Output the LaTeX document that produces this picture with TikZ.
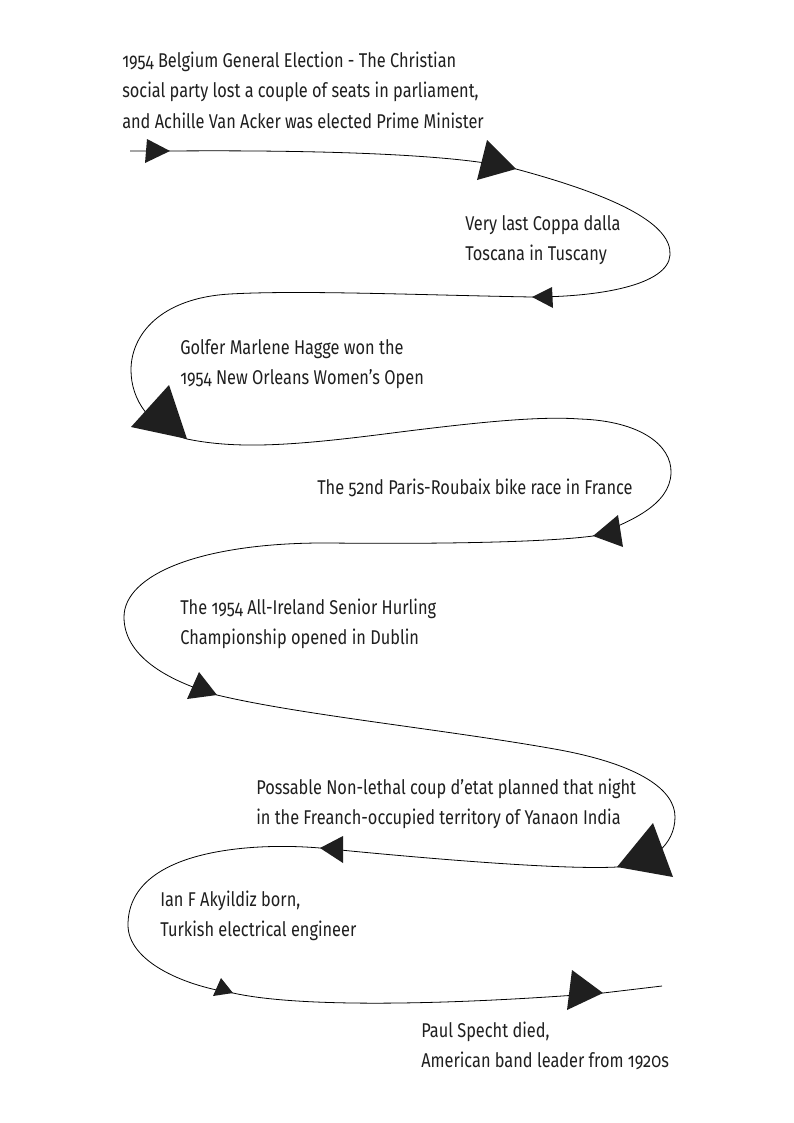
\documentclass[tikz,border=0pt]{standalone}
\usepackage{fontspec}
\setmainfont{Fira Sans}[Numbers=OldStyle,FakeStretch=0.82]
\begin{document}
\begin{tikzpicture}[x=0.26447mm,y=-0.26447mm,
  evt/.style={anchor=base west,inner sep=0pt,font=\fontsize{15}{23}\selectfont,text=black!88},
  tri/.style={fill=black!88,draw=none},
  wire/.style={draw=black,line width=0.6pt}]
\useasboundingbox (0,0) rectangle (794,1123);
\fill[white] (0,0) rectangle (794,1123);
% path
\coordinate (s0) at (130,151);
\coordinate (a1) at (170,151);
\coordinate (a2) at (516,169);
\coordinate (a3) at (532,297);
\coordinate (a4) at (187,439);
\coordinate (a5) at (593,536);
\coordinate (a6) at (217,695);
\coordinate (a7) at (617,867);
\coordinate (a8) at (320,848);
\coordinate (a9) at (233,993);
\coordinate (a10) at (603,993);
\coordinate (e0) at (662,986);
\draw[wire] (s0) -- (a1) .. controls (300,150) and (456,153) .. (a2)
  .. controls (620,197) and (672,225) .. (670,255)
  .. controls (668,285) and (600,297) .. (a3)
  .. controls (420,295) and (300,290) .. (230,294)
  .. controls (160,298) and (131,335) .. (131,370)
  .. controls (131,400) and (150,428) .. (a4)
  .. controls (240,450) and (300,445) .. (400,432)
  .. controls (480,422) and (540,416) .. (580,419)
  .. controls (640,421) and (672,445) .. (671,473)
  .. controls (670,505) and (630,522) .. (a5)
  .. controls (540,543) and (420,544) .. (330,543)
  .. controls (200,542) and (124,575) .. (124,617)
  .. controls (124,655) and (165,680) .. (a6)
  .. controls (300,715) and (450,730) .. (560,750)
  .. controls (640,765) and (675,790) .. (675,817)
  .. controls (675,845) and (650,865) .. (a7)
  .. controls (560,870) and (420,858) .. (a8)
  .. controls (250,842) and (128,850) .. (128,925)
  .. controls (128,960) and (180,985) .. (a9)
  .. controls (300,1008) and (450,1005) .. (a10)
  -- (e0);
% arrowheads
\fill[tri] (a1) -- (147,139) -- (145,163) -- cycle;
\fill[tri] (a2) -- (487,140) -- (477,180) -- cycle;
\fill[tri] (a3) -- (552,287) -- (553,308) -- cycle;
\fill[tri] (a4) -- (169,385) -- (131,427) -- cycle;
\fill[tri] (a5) -- (618,515) -- (623,547) -- cycle;
\fill[tri] (a6) -- (199,672) -- (187,699) -- cycle;
\fill[tri] (a7) -- (653,823) -- (673,877) -- cycle;
\fill[tri] (a8) -- (343,836) -- (343,863) -- cycle;
\fill[tri] (a9) -- (221,978) -- (213,996) -- cycle;
\fill[tri] (a10) -- (572,970) -- (567,1010) -- cycle;
% texts
\node[evt] (t1a) at (122,67) {1954 Belgium General Election - The Christian};
\node[evt] (t1b) at (122,97) {social party lost a couple of seats in parliament,};
\node[evt] (t1c) at (122,128) {and Achille Van Acker was elected Prime Minister};
\node[evt] (t2a) at (465,230) {Very last Coppa dalla};
\node[evt] (t2b) at (465,260) {Toscana in Tuscany};
\node[evt] (t3a) at (180,354) {Golfer Marlene Hagge won the};
\node[evt] (t3b) at (180,384) {1954 New Orleans Women's Open};
\node[evt] (t4a) at (317,494) {The 52nd Paris-Roubaix bike race in France};
\node[evt] (t5a) at (180,614) {The 1954 All-Ireland Senior Hurling};
\node[evt] (t5b) at (180,644) {Championship opened in Dublin};
\node[evt] (t6a) at (256,794) {Possable Non-lethal coup d'etat planned that night};
\node[evt] (t6b) at (256,824) {in the Freanch-occupied territory of Yanaon India};
\node[evt] (t7a) at (160,906) {Ian F Akyildiz born,};
\node[evt] (t7b) at (160,936) {Turkish electrical engineer};
\node[evt] (t8a) at (421,1037) {Paul Specht died,};
\node[evt] (t8b) at (421,1067) {American band leader from 1920s};
\end{tikzpicture}
\end{document}
